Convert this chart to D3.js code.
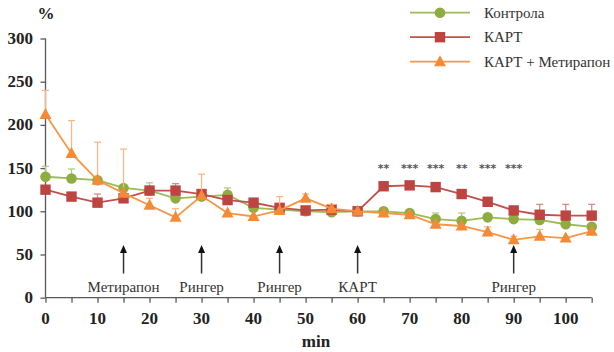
<!DOCTYPE html>
<html><head><meta charset="utf-8">
<script src="https://cdn.jsdelivr.net/npm/d3@7"></script>
<style>
body{margin:0;background:#fff}
svg text.sf{font-family:"Liberation Serif","Times New Roman",Tinos,serif !important}
</style>
</head><body>
<svg id="c" width="614" height="352"></svg>
<script>
const times = [0,5,10,15,20,25,30,35,40,45,50,55,60,65,70,75,80,85,90,95,100,105];
const kontrola = [140,138,136,127,124,115,117,119,104,102,100,99,100,100,98,91,89,93,91,90,85,82];
const kontrolaErr = [12,11,0,0,9,0,0,8,0,0,0,0,0,0,0,7,9,0,0,0,0,0];
const kapt = [125,117,110,115,124,124,120,113,110,104,101,102,100,129,130,128,120,111,101,96,95,95];
const kaptErr = [0,0,10,0,0,8,0,0,0,0,0,0,0,0,0,0,0,0,0,12,13,13];
const kaptMet = [212,167,136,121,107,93,118,98,94,101,115,103,100,98,96,85,83,76,67,71,69,77];
const kaptMetErr = [28,38,44,51,8,10,25,0,0,16,5,5,0,0,0,0,0,6,4,8,0,0];
const yTicks = [0,50,100,150,200,250,300];
const xTicks = [0,10,20,30,40,50,60,70,80,90,100];
const sigTimes = [65,70,75,80,85,90];
const sigLabels = ["**","***","***","**","***","***"];
const events = [15,30,45,60,90];
const eventLabels = ["Метирапон","Рингер","Рингер","КАРТ","Рингер"];
const seriesNames = ["Контрола","КАРТ","КАРТ + Метирапон"];

const svg = d3.select("#c");
const x = d3.scaleLinear().domain([0,105]).range([45.5,591.7]);
const y = d3.scaleLinear().domain([0,300]).range([297.7,38.5]);
const axisCol = "#595959";

function txt(g, s, size, bold){
  const t = g.append("text").attr("class","sf").attr("font-family","Liberation Serif").attr("font-size", size);
  if(bold) t.attr("font-weight","bold");
  return t.text(s);
}

// axes
const gx = svg.append("g").attr("transform",`translate(0,${y(0)})`)
  .call(d3.axisBottom(x).tickValues(d3.range(0,106,5)).tickSize(5).tickFormat(""));
gx.selectAll("path,line").attr("stroke",axisCol).attr("stroke-width",1.3);
gx.select(".domain").attr("d",`M${x(0)},0H${x(105)}`);
const xl = svg.append("g");
xTicks.forEach(d=>txt(xl, d, 17, true).attr("x",x(d)).attr("y",324).attr("text-anchor","middle").attr("fill","#222"));

const gy = svg.append("g").attr("transform",`translate(${x(0)},0)`)
  .call(d3.axisLeft(y).tickValues(yTicks).tickSize(5).tickFormat(""));
gy.selectAll("path,line").attr("stroke",axisCol).attr("stroke-width",1.3);
gy.select(".domain").attr("d",`M0,${y(0)}V${y(300)}`);
const yl = svg.append("g");
yTicks.forEach(d=>txt(yl, d, 17, true).attr("x",33).attr("y",y(d)+5.5).attr("text-anchor","end").attr("fill","#222"));

txt(svg,"%",17,true).attr("x",46).attr("y",19).attr("text-anchor","middle").attr("fill","#222");
txt(svg,"min",17,true).attr("x",316).attr("y",347).attr("text-anchor","middle").attr("fill","#222");

// event arrows
const ev = svg.append("g");
events.forEach((t,i)=>{
  const cx = x(t), tip = y(61);
  ev.append("line").attr("x1",cx).attr("x2",cx).attr("y1",y(28)).attr("y2",tip+6)
    .attr("stroke","#333").attr("stroke-width",1.5);
  ev.append("path").attr("d",`M${cx},${tip}L${cx+3.5},${tip+8}L${cx-3.5},${tip+8}Z`).attr("fill","#111");
  txt(ev, eventLabels[i], 15, false).attr("x",cx).attr("y",292).attr("text-anchor","middle").attr("fill","#333");
});

// significance
const sg = svg.append("g");
sigTimes.forEach((d,i)=>sg.append("text").attr("font-family","DejaVu Sans").attr("font-size",11)
  .attr("font-weight","bold").attr("fill","#555").attr("x",x(d)).attr("y",y(145))
  .attr("text-anchor","middle").text(sigLabels[i]));

const series = [
  {name:seriesNames[0], vals:kontrola, err:kontrolaErr, line:"#9bbb59", mark:"#8fac40", errc:"#b5c98a", shape:"circle"},
  {name:seriesNames[1], vals:kapt, err:kaptErr, line:"#c0504d", mark:"#be4441", errc:"#d48c8a", shape:"square"},
  {name:seriesNames[2], vals:kaptMet, err:kaptMetErr, line:"#f79646", mark:"#f58a36", errc:"#f8b98a", shape:"triangle"}
];
function marker(g, shape, cx, cy, col){
  if(shape==="circle") g.append("circle").attr("cx",cx).attr("cy",cy).attr("r",5.3).attr("fill",col);
  else if(shape==="square") g.append("rect").attr("x",cx-5.2).attr("y",cy-5.2).attr("width",10.4).attr("height",10.4).attr("fill",col);
  else g.append("path").attr("d",`M${cx},${cy-6.5}L${cx+6},${cy+4.5}L${cx-6},${cy+4.5}Z`).attr("fill",col);
}
const line = d3.line().x((d,i)=>x(times[i])).y(d=>y(d));
series.forEach(s=>{
  const g = svg.append("g");
  s.err.forEach((e,i)=>{
    if(!e) return;
    const cx = x(times[i]), y0 = y(s.vals[i]), y1 = y(s.vals[i]+e);
    g.append("line").attr("x1",cx).attr("x2",cx).attr("y1",y0).attr("y2",y1).attr("stroke",s.errc).attr("stroke-width",1.3);
    g.append("line").attr("x1",cx-3.5).attr("x2",cx+3.5).attr("y1",y1).attr("y2",y1).attr("stroke",s.errc).attr("stroke-width",1.3);
  });
  g.append("path").attr("d",line(s.vals)).attr("fill","none").attr("stroke",s.line).attr("stroke-width",1.8);
  s.vals.forEach((v,i)=>marker(g,s.shape,x(times[i]),y(v),s.mark));
});

// legend
const lg = svg.append("g");
series.forEach((s,i)=>{
  const ly = 12.7 + i*24.5;
  lg.append("line").attr("x1",410).attr("x2",470).attr("y1",ly).attr("y2",ly).attr("stroke",s.line).attr("stroke-width",1.8);
  marker(lg,s.shape,440,ly,s.mark);
  txt(lg, s.name, 15, false).attr("x",484).attr("y",ly+5).attr("fill","#333");
});
</script>
</body></html>
